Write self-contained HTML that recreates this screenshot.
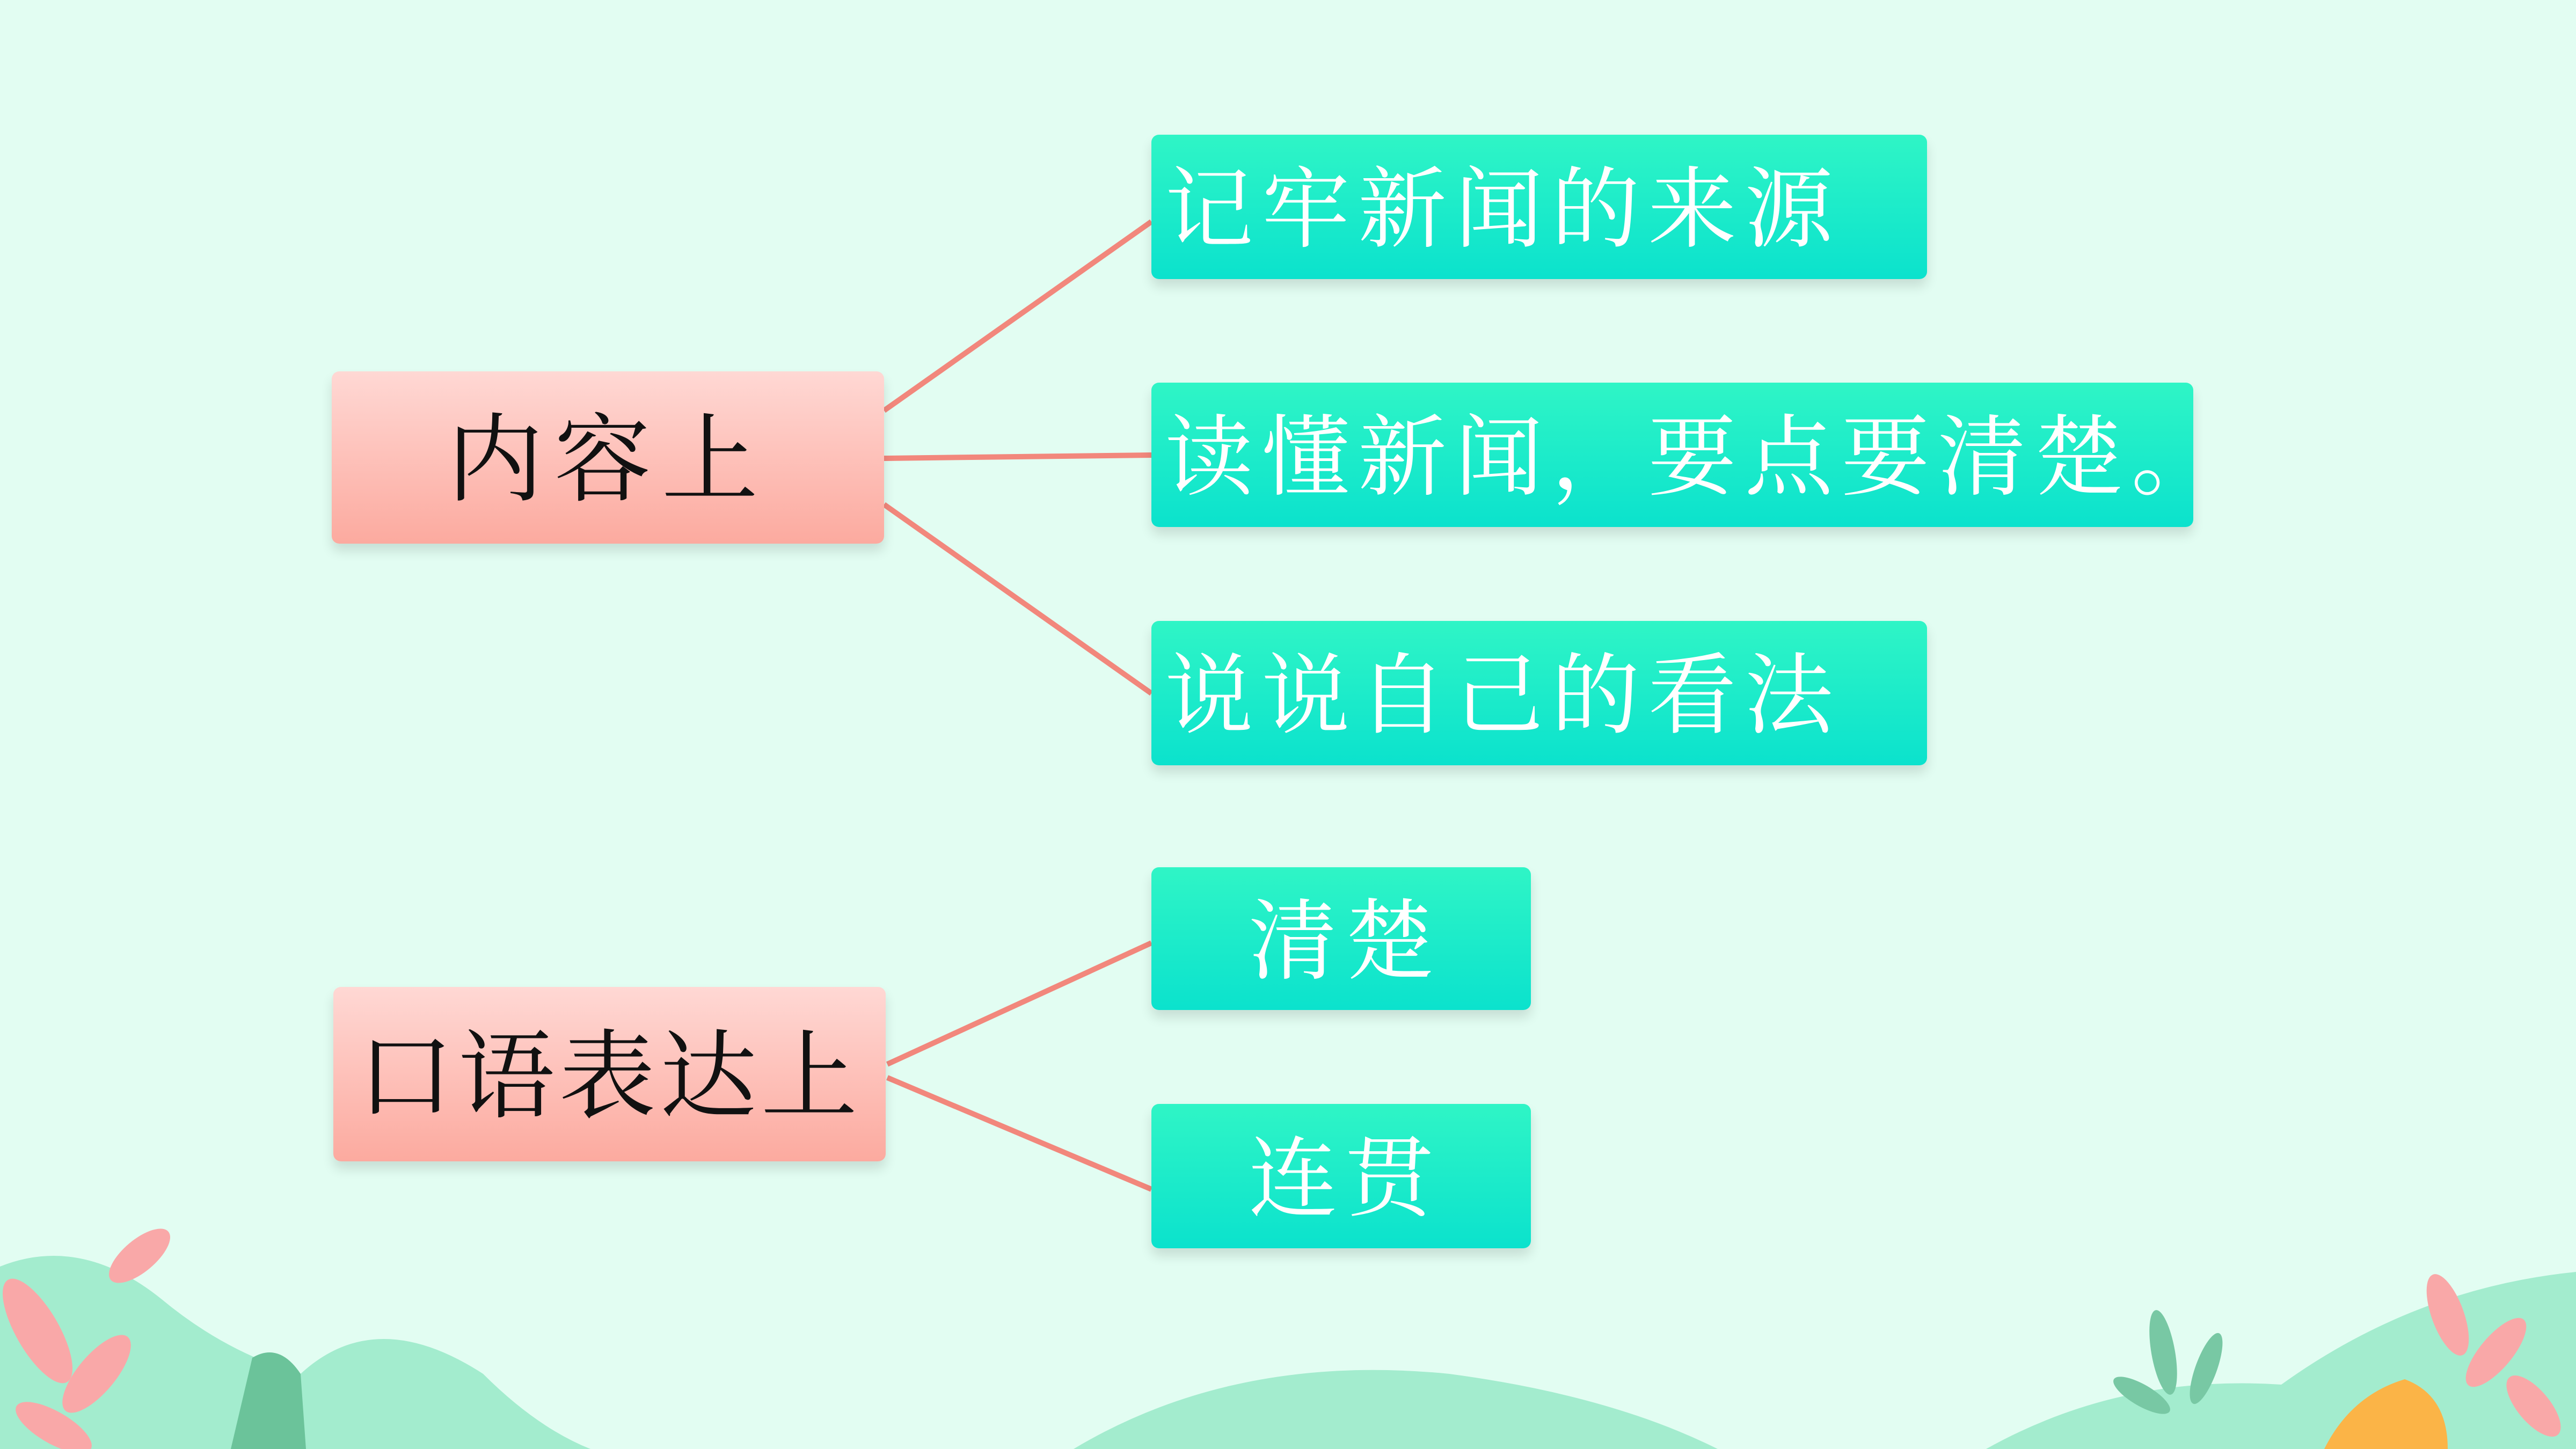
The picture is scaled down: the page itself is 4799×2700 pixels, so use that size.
<!DOCTYPE html>
<html><head><meta charset="utf-8"><style>
html,body{margin:0;padding:0}
body{width:4799px;height:2700px;background:#e2fdf2;position:relative;overflow:hidden;font-family:"Liberation Serif","Noto Serif CJK SC",serif}
.b{position:absolute;border-radius:14px;box-shadow:0 14px 22px rgba(0,0,0,0.12);display:flex;align-items:center;font-size:165px;line-height:1;white-space:nowrap;padding-top:12px;box-sizing:border-box}
.p{background:linear-gradient(#ffd8d4,#fcaa9f);color:#111;justify-content:center}
.t{background:linear-gradient(#2ff5c6,#0be2cd);color:#fff;padding-left:25px;letter-spacing:15px}
</style></head><body>
<svg width="4799" height="2700" style="position:absolute;left:0;top:0">
<g stroke="#f2877c" stroke-width="10" fill="none">
<line x1="1647" y1="765" x2="2145" y2="413"/>
<line x1="1647" y1="854" x2="2145" y2="848"/>
<line x1="1647" y1="940" x2="2145" y2="1292"/>
<line x1="1653" y1="1983" x2="2145" y2="1757"/>
<line x1="1653" y1="2008" x2="2145" y2="2216"/>
</g>
<g fill="#a3ecce">
<path d="M0 2700 L0 2360 Q150 2300 300 2420 Q420 2520 560 2560 Q700 2430 900 2560 Q1000 2660 1100 2700Z"/>
<path d="M2000 2700 Q2300 2520 2700 2560 Q3000 2600 3200 2700Z"/>
<path d="M3700 2700 Q3950 2560 4250 2580 Q4500 2400 4799 2370 L4799 2700Z"/>
</g>
<path d="M430 2700 L470 2530 Q520 2500 560 2560 L570 2700Z" fill="#6bc39a"/>
<g fill="#f9a8a8">
<ellipse cx="70" cy="2480" rx="40" ry="110" transform="rotate(-30 70 2480)"/>
<ellipse cx="180" cy="2560" rx="35" ry="90" transform="rotate(40 180 2560)"/>
<ellipse cx="260" cy="2340" rx="30" ry="70" transform="rotate(50 260 2340)"/>
<ellipse cx="100" cy="2660" rx="30" ry="80" transform="rotate(-60 100 2660)"/>
<ellipse cx="4560" cy="2450" rx="30" ry="80" transform="rotate(-20 4560 2450)"/>
<ellipse cx="4650" cy="2520" rx="30" ry="80" transform="rotate(40 4650 2520)"/>
<ellipse cx="4720" cy="2620" rx="30" ry="70" transform="rotate(-40 4720 2620)"/>
</g>
<path d="M4330 2700 Q4380 2600 4480 2570 Q4560 2600 4560 2700Z" fill="#fbb447"/>
<g fill="#78c8a4">
<ellipse cx="4030" cy="2520" rx="22" ry="80" transform="rotate(-10 4030 2520)"/>
<ellipse cx="4110" cy="2550" rx="20" ry="70" transform="rotate(20 4110 2550)"/>
<ellipse cx="3990" cy="2600" rx="20" ry="60" transform="rotate(-60 3990 2600)"/>
</g>
</svg>
<div class="b p" style="left:618px;top:692px;width:1029px;height:321px;letter-spacing:20px;font-size:180px">内容上</div>
<div class="b p" style="left:621px;top:1839px;width:1029px;height:325px;letter-spacing:8px;font-size:180px">口语表达上</div>
<div class="b t" style="left:2145px;top:251px;width:1445px;height:269px">记牢新闻的来源</div>
<div class="b t" style="left:2145px;top:713px;width:1941px;height:269px">读懂新闻，要点要清楚。</div>
<div class="b t" style="left:2145px;top:1157px;width:1445px;height:269px">说说自己的看法</div>
<div class="b t" style="left:2145px;top:1616px;width:707px;height:266px;justify-content:center;padding-left:15px">清楚</div>
<div class="b t" style="left:2145px;top:2057px;width:707px;height:269px;justify-content:center;padding-left:15px">连贯</div>
</body></html>
